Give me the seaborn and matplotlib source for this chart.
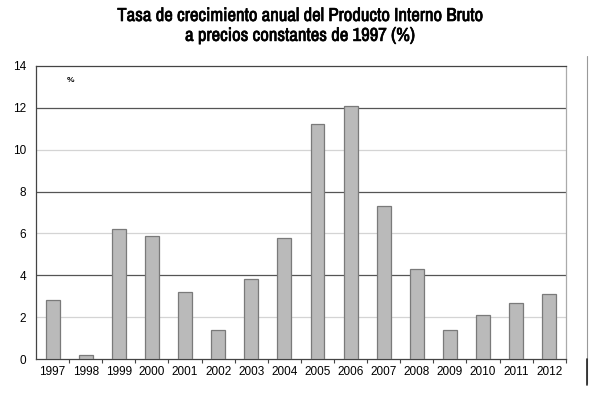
import matplotlib
matplotlib.use("Agg")
import matplotlib.pyplot as plt
import matplotlib.patheffects as pe
import seaborn as sns
import pandas as pd
from matplotlib.lines import Line2D
from matplotlib import font_manager

# data
years = ["1997", "1998", "1999", "2000", "2001", "2002", "2003", "2004",
         "2005", "2006", "2007", "2008", "2009", "2010", "2011", "2012"]
growth = [2.8, 0.2, 6.2, 5.9, 3.2, 1.4, 3.8, 5.8,
          11.2, 12.1, 7.3, 4.3, 1.4, 2.1, 2.7, 3.1]

df = pd.DataFrame({"year": years, "growth": growth})

sns.set_style("white")
plt.rcParams["font.family"] = ["Liberation Sans", "DejaVu Sans"]
plt.rcParams["text.color"] = "black"
plt.rcParams["xtick.color"] = "black"
plt.rcParams["ytick.color"] = "black"

# condensed face for the title, if one is installed
fonts = [f.name for f in font_manager.fontManager.ttflist]
narrow = sorted({n for n in fonts if "Narrow" in n or "Condensed" in n})
title_family = narrow[:1] + ["DejaVu Sans"]

fig = plt.figure(figsize=(6, 3.99), dpi=100)
ax = fig.add_axes([0.06, 0.10, 0.883, 0.735])

sns.barplot(data=df, x="year", y="growth", color="#bababa",
            edgecolor="#7a7a7a", linewidth=0.9, width=0.42,
            saturation=1, ax=ax, zorder=3)

# gridlines: dark at 4, 8, 12 and light at 2, 6, 10
for v in [4, 8, 12]:
    ax.axhline(v, color="#555555", lw=0.9, zorder=1)
for v in [2, 6, 10]:
    ax.axhline(v, color="#d4d4d4", lw=0.9, zorder=1)

ax.set_ylim(0, 14)
ax.set_xlim(-0.5, len(years) - 0.5)
ax.set_yticks(range(0, 15, 2))
ax.set_xlabel("")
ax.set_ylabel("")

for side in ["left", "bottom", "top"]:
    ax.spines[side].set_color("#444444")
    ax.spines[side].set_linewidth(0.9)
ax.spines["right"].set_color("#aaaaaa")
ax.spines["right"].set_linewidth(0.9)

ax.tick_params(axis="y", length=3, width=0.8, color="#444444",
               labelsize=8.5, pad=4)
ax.tick_params(axis="x", length=0, labelsize=8.5, pad=5)
ax.set_xticks([i + 0.5 for i in range(len(years))], minor=True)
ax.tick_params(axis="x", which="minor", length=3, width=0.8,
               color="#444444", direction="out")
ax.tick_params(axis="x", which="minor", bottom=True)

ax.text(0.55, 13.3, "%", fontsize=6, fontweight="bold", ha="center",
        va="center")

title = fig.suptitle("Tasa de crecimiento anual del Producto Interno Bruto\n"
                     "a precios constantes de 1997 (%)",
                     x=0.5, y=0.98, fontsize=13.5, fontweight="bold",
                     family=title_family, linespacing=1.3)
title.set_path_effects([pe.withStroke(linewidth=0.5, foreground="black")])

# decorative vertical rule on the right
fig.add_artist(Line2D([0.978, 0.978], [0.04, 0.86], color="#999999",
                      lw=0.8, transform=fig.transFigure))
fig.add_artist(Line2D([0.978, 0.978], [0.035, 0.10], color="#222222",
                      lw=1.2, transform=fig.transFigure))

fig.savefig("out.png", dpi=100)
